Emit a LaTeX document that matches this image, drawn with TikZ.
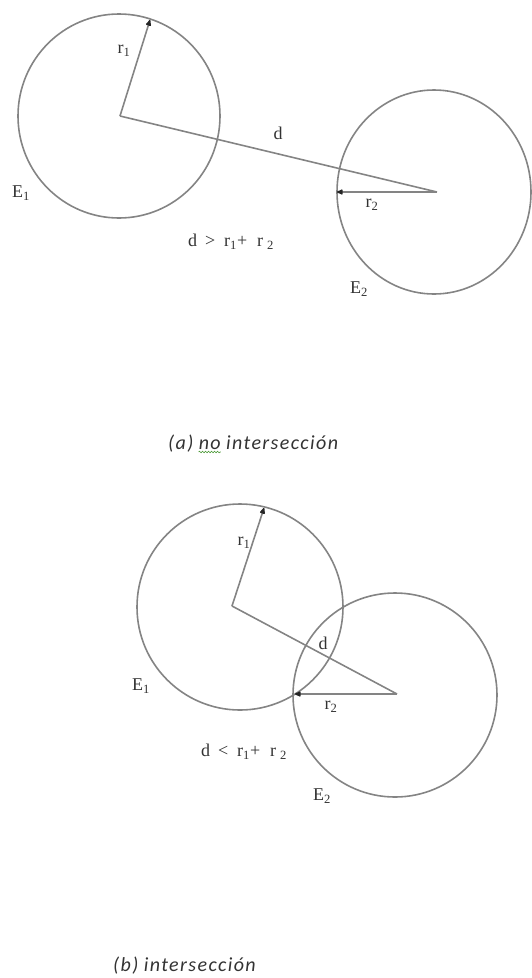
\documentclass[tikz,border=0pt]{standalone}
\usepackage{fontspec}
\setmainfont{Liberation Serif}
\newfontfamily\capfont[LetterSpace=7]{Carlito}
\usetikzlibrary{arrows.meta,decorations.pathmorphing}
\definecolor{linegray}{HTML}{848484}
\definecolor{textgray}{HTML}{333333}
\definecolor{spellgreen}{HTML}{4E9A3A}
\newcommand{\sbs}[1]{\textsubscript{#1}}
\begin{document}
\begin{tikzpicture}[x=1pt,y=-1pt,
  ring/.style={draw=linegray,line width=1.6pt},
  seg/.style={draw=linegray,line width=1.6pt},
  radline/.style={draw=linegray,line width=1.6pt,-{Latex[round,length=8pt,width=6.5pt,color=black!85]}},
  lbl/.style={text=textgray,font=\fontsize{18}{20}\selectfont,inner sep=0pt},
  captxt/.style={text=textgray,font=\capfont\itshape\fontsize{20}{24}\selectfont,inner sep=0pt,anchor=base west}]
\useasboundingbox (0,0) rectangle (531,978);

% ---------- (a) no intersection ----------
\coordinate (A1) at (120,116);
\coordinate (A2) at (437,192);
\coordinate (A1r) at (150,20);
\coordinate (A2r) at (337,192);
\draw[ring] (119,116) circle[x radius=101pt, y radius=102pt];
\draw[ring] (434,192) circle[x radius=97pt, y radius=102pt];
\draw[radline] (A1) -- (A1r);
\draw[seg] (A1) -- (A2);
\draw[radline] (A2) -- (A2r);
\node[lbl] (ar1) at (124,51) {r\sbs{1}};
\node[lbl] (ad) at (278,133) {d};
\node[lbl] (aE1) at (21,193) {E\sbs{1}};
\node[lbl] (ar2) at (372,205) {r\sbs{2}};
\node[lbl] (acond) at (231,242) {d\hspace{8pt}>\hspace{9pt}r\sbs{1}+\hspace{10pt}r\hspace{4pt}\sbs{2}};
\node[lbl] (aE2) at (359,289) {E\sbs{2}};

\node[captxt] (ca1) at (168,449) {(a)};
\node[captxt] (ca2) at ([xshift=5pt]ca1.base east) {no};
\node[captxt] (ca3) at ([xshift=5pt]ca2.base east) {intersección};
\draw[spellgreen,line width=0.6pt,decorate,decoration={snake,amplitude=0.8pt,segment length=3pt}]
  ([yshift=-3pt]ca2.base west) -- ([yshift=-3pt]ca2.base east);

% ---------- (b) intersection ----------
\coordinate (B1) at (232,606);
\coordinate (B2) at (397,694);
\coordinate (B1r) at (264,508);
\coordinate (B2r) at (295,694);
\draw[ring] (240,607) circle[radius=103pt];
\draw[ring] (395,695) circle[radius=102pt];
\draw[radline] (B1) -- (B1r);
\draw[seg] (B1) -- (B2);
\draw[radline] (B2) -- (B2r);
\node[lbl] (br1) at (244,543) {r\sbs{1}};
\node[lbl] (bd) at (323,643) {d};
\node[lbl] (bE1) at (141,686) {E\sbs{1}};
\node[lbl] (br2) at (331,707) {r\sbs{2}};
\node[lbl] (bcond) at (244,752) {d\hspace{8pt}<\hspace{9pt}r\sbs{1}+\hspace{10pt}r\hspace{4pt}\sbs{2}};
\node[lbl] (bE2) at (322,796) {E\sbs{2}};

\node[captxt] (cb1) at (113,971) {(b)};
\node[captxt] (cb2) at ([xshift=5pt]cb1.base east) {intersección};
\end{tikzpicture}
\end{document}
